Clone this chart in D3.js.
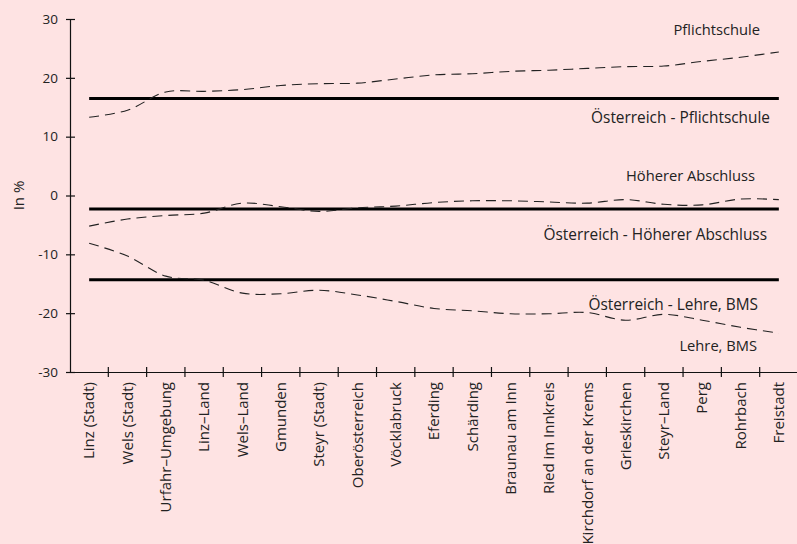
<!DOCTYPE html>
<html>
<head>
<meta charset="utf-8">
<script src="https://cdn.jsdelivr.net/npm/d3@7"></script>
<style>
  html, body { margin: 0; padding: 0; background: #fee3e3; }
  svg { display: block; }
  text { font-family: "Open Sans", "DejaVu Sans", sans-serif; fill: #222; }
</style>
</head>
<body>
<div id="chart"></div>
<script>
// districts (x categories)
const districts = ["Linz (Stadt)", "Wels (Stadt)", "Urfahr\u2013Umgebung", "Linz\u2013Land", "Wels\u2013Land",
  "Gmunden", "Steyr (Stadt)", "Oberösterreich", "Vöcklabruck", "Eferding", "Schärding",
  "Braunau am Inn", "Ried im Innkreis", "Kirchdorf an der Krems", "Grieskirchen",
  "Steyr\u2013Land", "Perg", "Rohrbach", "Freistadt"];

// series values, in %
const pflichtschule = [13.3, 14.5, 17.6, 17.7, 18.0, 18.7, 19.0, 19.1, 19.8, 20.5, 20.7,
  21.1, 21.3, 21.6, 21.9, 22.0, 22.8, 23.5, 24.4];
const hoehererAbschluss = [-5.2, -4.0, -3.4, -3.0, -1.3, -1.9, -2.7, -2.1, -1.8, -1.2, -0.9,
  -0.9, -1.1, -1.3, -0.7, -1.5, -1.6, -0.6, -0.7];
const lehreBMS = [-8.1, -10.3, -13.7, -14.4, -16.6, -16.7, -16.1, -16.9, -18.0, -19.2, -19.6,
  -20.1, -20.1, -19.9, -21.2, -20.2, -21.2, -22.4, -23.4];

// Austria reference values
const oesterreich = [
  {name: "Österreich - Pflichtschule", value: 16.5},
  {name: "Österreich - Höherer Abschluss", value: -2.3},
  {name: "Österreich - Lehre, BMS", value: -14.3}
];

const yTicks = [-30, -20, -10, 0, 10, 20, 30];

function main() {
  const W = 797, H = 544;
  const left = 70, right = 798, top = 19, bottom = 372;

  const svg = d3.select("#chart").append("svg")
    .attr("width", W).attr("height", H);

  const x = d3.scaleBand().domain(districts).range([left, right]);
  const y = d3.scaleLinear().domain([-30, 30]).range([bottom, top]);
  const cx = d => x(d) + x.bandwidth() / 2;

  // y axis (plain hyphen minus as in the original)
  const yAxis = svg.append("g")
    .attr("transform", "translate(" + left + ",0)")
    .call(d3.axisLeft(y).tickValues(yTicks).tickFormat(d => String(d)).tickSize(4).tickPadding(8));
  yAxis.select(".domain").attr("stroke", "#111").attr("stroke-width", 1.2);
  yAxis.selectAll(".tick line").attr("x1", 5).attr("x2", -4).attr("stroke", "#111").attr("stroke-width", 1.2);
  yAxis.selectAll(".tick text").attr("font-size", 13.5).attr("font-family", null);

  // x axis
  const xAxis = svg.append("g")
    .attr("transform", "translate(0," + bottom + ")")
    .call(d3.axisBottom(x).tickSize(0).tickSizeOuter(0));
  xAxis.select(".domain").attr("stroke", "#111").attr("stroke-width", 1.2)
    .attr("d", "M" + left + ",0.5H" + W);
  xAxis.selectAll(".tick text")
    .attr("font-size", 15)
    .attr("font-family", null)
    .attr("transform", "rotate(-90)")
    .attr("text-anchor", "end")
    .attr("x", -10)
    .attr("y", 0)
    .attr("dy", "0.35em");

  // boundary ticks
  const bounds = districts.map(d => x(d)).concat([x.range()[1]]);
  xAxis.selectAll(".btick").data(bounds.slice(1)).enter()
    .append("line")
    .attr("x1", d => d).attr("x2", d => d)
    .attr("y1", -5).attr("y2", 5)
    .attr("stroke", "#111").attr("stroke-width", 1.2);

  // y axis title
  svg.append("text")
    .attr("transform", "translate(24," + y(0) + ") rotate(-90)")
    .attr("text-anchor", "middle")
    .attr("font-size", 15)
    .text("In %");

  // Austria lines
  svg.selectAll(".ref").data(oesterreich).enter()
    .append("line")
    .attr("x1", cx(districts[0]))
    .attr("x2", cx(districts[districts.length - 1]))
    .attr("y1", d => y(d.value)).attr("y2", d => y(d.value))
    .attr("stroke", "#000").attr("stroke-width", 3);

  // district series (dashed, smoothed)
  const line = d3.line()
    .x((d, i) => cx(districts[i]))
    .y(d => y(d))
    .curve(d3.curveCatmullRom.alpha(0.5));

  [pflichtschule, hoehererAbschluss, lehreBMS].forEach(s => {
    svg.append("path")
      .attr("d", line(s))
      .attr("fill", "none")
      .attr("stroke", "#222")
      .attr("stroke-width", 1.1)
      .attr("stroke-dasharray", "10,6");
  });

  // labels
  const labels = [
    {t: "Pflichtschule", x: 760, y: 35},
    {t: oesterreich[0].name, x: 770, y: 123},
    {t: "Höherer Abschluss", x: 755, y: 181},
    {t: oesterreich[1].name, x: 767, y: 240},
    {t: oesterreich[2].name, x: 758, y: 310},
    {t: "Lehre, BMS", x: 757, y: 351}
  ];
  svg.selectAll(".lbl").data(labels).enter()
    .append("text")
    .attr("x", d => d.x).attr("y", d => d.y)
    .attr("text-anchor", "end")
    .attr("font-size", d => d.t.startsWith("Ö") ? 15.4 : 14.7)
    .text(d => d.t);
}

main();
</script>
</body>
</html>
